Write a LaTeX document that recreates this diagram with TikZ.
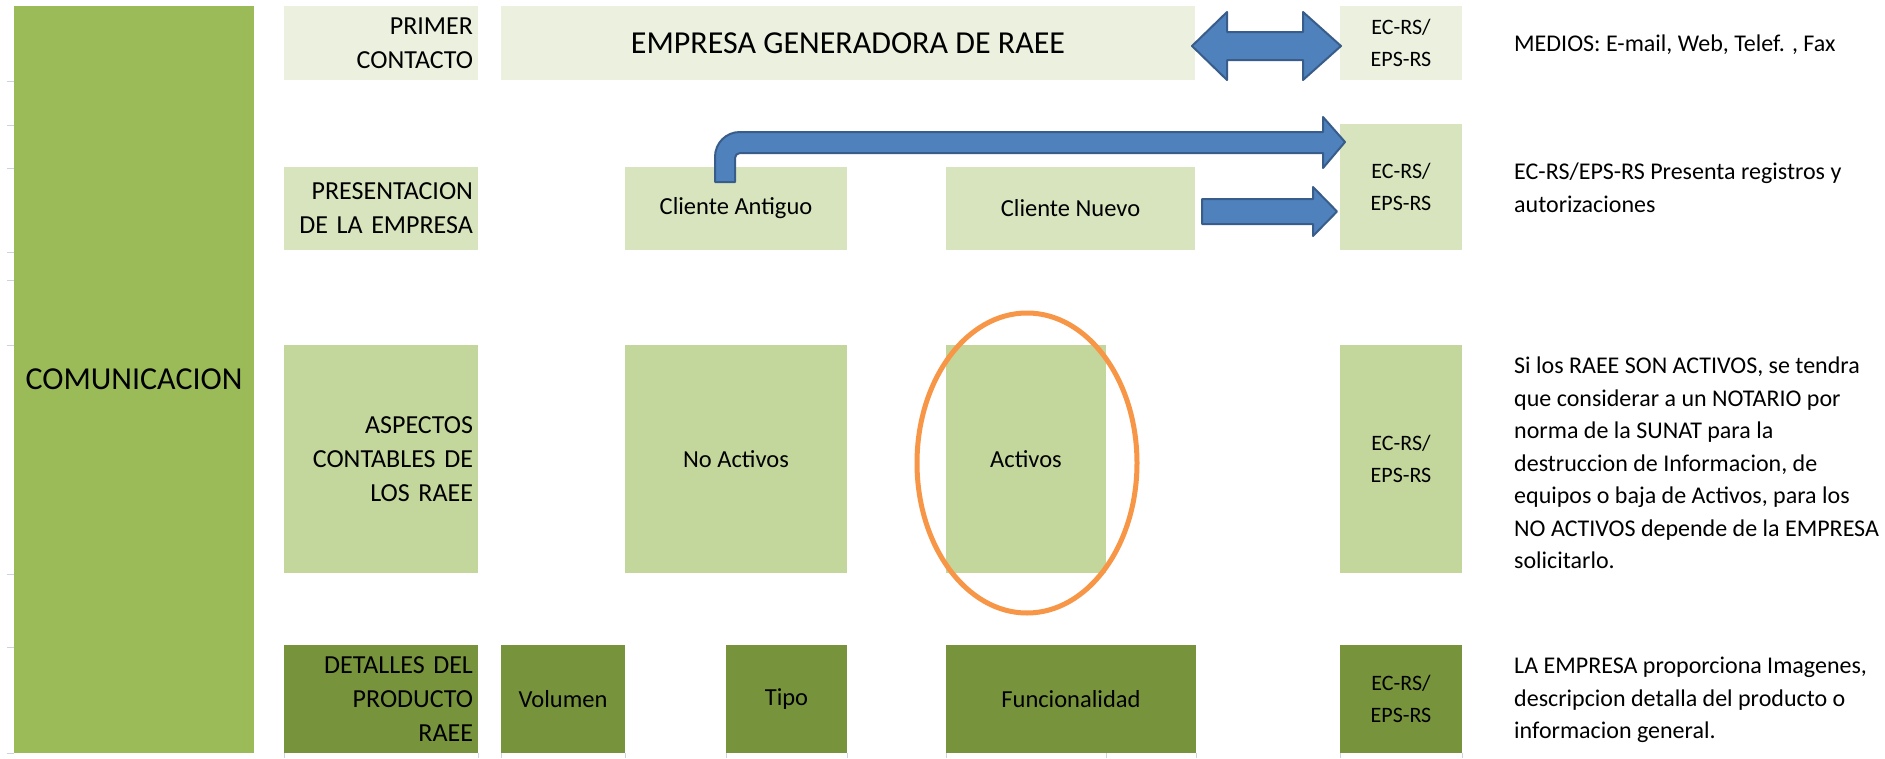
\documentclass[tikz,border=0pt]{standalone}
\usepackage{fontspec}
\setmainfont{Carlito}
\usetikzlibrary{calc}
\definecolor{comm}{HTML}{9BBB59}
\definecolor{rowa}{HTML}{EBF1DE}
\definecolor{rowb}{HTML}{D7E4BD}
\definecolor{rowc}{HTML}{C3D69B}
\definecolor{rowd}{HTML}{77933C}
\definecolor{arrowfill}{HTML}{4F81BD}
\definecolor{arrowline}{HTML}{385D8A}
\definecolor{orangec}{HTML}{F79646}
\definecolor{gridc}{HTML}{CCD3DF}
\tikzset{
 box/.style={rectangle, inner sep=0pt, outer sep=0pt, anchor=north west, text=black},
 lbl/.style={box, align=right, font=\fontsize{26}{34}\selectfont, minimum width=194pt, text width=184pt},
 cell/.style={box, align=center, font=\fontsize{24.5}{30}\selectfont},
 ecbox/.style={box, align=center, font=\fontsize{22}{32}\selectfont, minimum width=122pt},
 note/.style={anchor=west, inner sep=0pt, align=left, font=\fontsize{24}{32.5}\selectfont},
 bluearrow/.style={fill=arrowfill, draw=arrowline, line width=2pt, line join=round},
 gridline/.style={draw=gridc, line width=1pt}
}
\begin{document}
\begin{tikzpicture}[x=1pt,y=-1pt]
\useasboundingbox (0,0) rectangle (1885,758);
\fill[white] (0,0) rectangle (1885,758);

% faint spreadsheet grid stubs
\foreach \yy in {81,125,168,252,280,345,574,647,753}
  \draw[gridline] (7,\yy) -- (14,\yy);
\foreach \xx in {284,478,501,625,726,847,946,1106,1196,1340,1462}
  \draw[gridline] (\xx,753) -- (\xx,758);

% left column
\node[box, fill=comm, minimum width=240pt, minimum height=747pt, font=\fontsize{32}{38}\selectfont] (com) at (14,6) {COMUNICACION};

% row 1
\node[lbl, fill=rowa, minimum height=74pt] (primer) at (284,6) {PRIMER\\CONTACTO};
\node[box, fill=rowa, minimum width=694pt, minimum height=74pt, font=\fontsize{32}{38}\selectfont] (empresa) at (501,6) {EMPRESA GENERADORA DE RAEE};
\node[ecbox, fill=rowa, minimum height=74pt] (ec1) at (1340,6) {EC-RS/\\EPS-RS};
\node[note] (t1) at (1514,45) {MEDIOS: E-mail, Web, Telef. , Fax};

% row 2
\node[lbl, fill=rowb, minimum height=83pt] (pres) at (284,167) {PRESENTACION\\DE LA EMPRESA};
\node[cell, fill=rowb, minimum width=222pt, minimum height=83pt] (antiguo) at (625,167) {Cliente Antiguo};
\node[cell, fill=rowb, minimum width=249pt, minimum height=83pt] (nuevo) at (946,167) {Cliente Nuevo};
\node[ecbox, fill=rowb, minimum height=126pt] (ec2) at (1340,124) {EC-RS/\\EPS-RS};
\node[note] (t2) at (1514,188) {EC-RS/EPS-RS Presenta registros y\\autorizaciones};

% row 3
\node[lbl, fill=rowc, minimum height=228pt] (asp) at (284,345) {ASPECTOS\\CONTABLES DE\\LOS RAEE};
\node[cell, fill=rowc, minimum width=222pt, minimum height=228pt] (noact) at (625,345) {No Activos};
\node[cell, fill=rowc, minimum width=160pt, minimum height=228pt] (activos) at (946,345) {Activos};
\node[ecbox, fill=rowc, minimum height=228pt] (ec3) at (1340,345) {EC-RS/\\EPS-RS};
\node[note] (t3) at (1514,463) {Si los RAEE SON ACTIVOS, se tendra\\que considerar a un NOTARIO por\\norma de la SUNAT para la\\destruccion de Informacion, de\\equipos o baja de Activos, para los\\NO ACTIVOS depende de la EMPRESA\\solicitarlo.};

% row 4
\node[lbl, fill=rowd, minimum height=108pt] (det) at (284,645) {DETALLES DEL\\PRODUCTO\\RAEE};
\node[cell, fill=rowd, minimum width=124pt, minimum height=108pt] (vol) at (501,645) {Volumen};
\node[cell, fill=rowd, minimum width=121pt, minimum height=108pt] (tipo) at (726,645) {Tipo};
\node[cell, fill=rowd, minimum width=250pt, minimum height=108pt] (func) at (946,645) {Funcionalidad};
\node[ecbox, fill=rowd, minimum height=108pt] (ec4) at (1340,645) {EC-RS/\\EPS-RS};
\node[note] (t4) at (1514,700) {LA EMPRESA proporciona Imagenes,\\descripcion detalla del producto o\\informacion general.};

% double arrow empresa <-> ec1
\coordinate (dl) at ($(empresa.east)+(-3,3)$);
\coordinate (dr) at ($(ec1.west)+(1,3)$);
\filldraw[bluearrow] (dl) -- ($(dl)+(35,-34)$) -- ($(dl)+(35,-14)$) -- ($(dr)+(-38,-14)$) -- ($(dr)+(-38,-34)$) -- (dr)
  -- ($(dr)+(-38,34)$) -- ($(dr)+(-38,14)$) -- ($(dl)+(35,14)$) -- ($(dl)+(35,34)$) -- cycle;

% bent arrow antiguo -> ec2
\coordinate (bs) at ($(antiguo.north)+(-11,0)$);
\coordinate (bt) at ($(ec2.north west)+(5,18)$);
\filldraw[bluearrow] ($(bs)+(-10,15)$) -- ($(bs)+(-10,-10)$)
  .. controls ($(bs)+(-10,-24)$) and ($(bs)+(1,-35)$) .. ($(bs)+(15,-35)$)
  -- ($(bt)+(-22,-10)$) -- ($(bt)+(-22,-25)$) -- (bt) -- ($(bt)+(-22,26)$) -- ($(bt)+(-22,11)$)
  -- ($(bs)+(15,-14)$)
  .. controls ($(bs)+(12.2,-14)$) and ($(bs)+(10,-11.8)$) .. ($(bs)+(10,-9)$)
  -- ($(bs)+(10,15)$) -- cycle;

% straight arrow nuevo -> ec2
\coordinate (ns) at ($(nuevo.east)+(7,3)$);
\coordinate (nt) at ($(ec2.west)+(-3,24.5)$);
\filldraw[bluearrow] ($(ns)+(0,-12.5)$) -- ($(nt)+(-24,-12.5)$) -- ($(nt)+(-24,-24.5)$) -- (nt)
  -- ($(nt)+(-24,24.5)$) -- ($(nt)+(-24,12.5)$) -- ($(ns)+(0,12.5)$) -- cycle;

% orange ellipse around Activos
\draw[orangec, line width=5pt] ($(activos.center)+(1,4)$) ellipse [x radius=110pt, y radius=150pt];
\end{tikzpicture}
\end{document}
